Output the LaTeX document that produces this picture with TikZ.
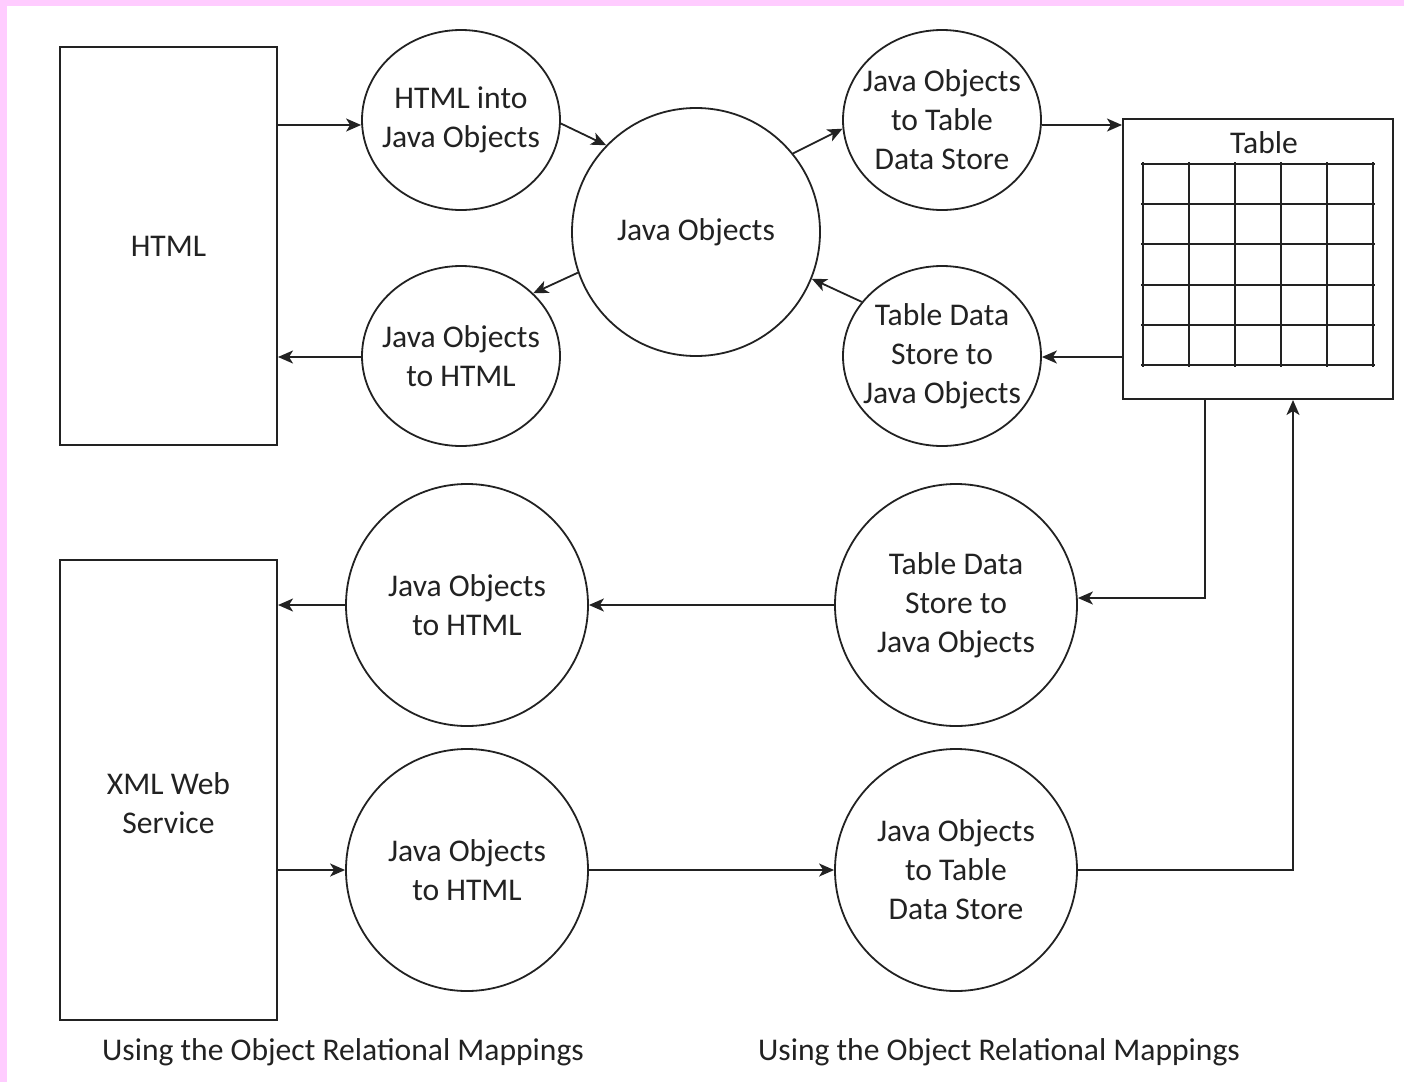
\documentclass[tikz,border=0pt]{standalone}
\usepackage{fontspec}
\setmainfont{Carlito}
\usetikzlibrary{arrows.meta,shapes.geometric}
\definecolor{framepink}{HTML}{FFCCFF}
\definecolor{inkgray}{HTML}{222222}
\tikzset{
    proc/.style={draw=inkgray, line width=0.9pt, ellipse, inner xsep=-6pt, inner ysep=0pt, align=center,
        minimum width=99pt, minimum height=90pt},
    bigproc/.style={proc, minimum width=121pt, minimum height=121pt},
    store/.style={draw=inkgray, line width=1pt, rectangle, inner sep=0pt, align=center},
    flow/.style={draw=inkgray, line width=0.9pt, -{Stealth[length=7.5pt,width=6.5pt,inset=2pt]}}
}
\begin{document}
\begin{tikzpicture}[x=0.5pt, y=-0.5pt, font=\fontsize{15.8}{19.5}\selectfont, text=inkgray]
    \useasboundingbox (0,0) rectangle (1404,1082);
    \fill[framepink] (0,0) rectangle (1404,6);
    \fill[framepink] (0,0) rectangle (7,1082);

    % upper half
    \node[store, minimum width=108.5pt, minimum height=199pt] (html) at (168.5,246) {HTML};
    \node[proc] (toobj) at (461,120) {HTML into\\Java Objects};
    \node[proc, minimum width=124pt, minimum height=124pt] (objs) at (696,232) {Java Objects};
    \node[proc] (tostore) at (942,120) {Java Objects\\to Table\\Data Store};
    \node[proc] (tohtml) at (461,356) {Java Objects\\to HTML};
    \node[proc] (fromstore) at (942,356) {Table Data\\Store to\\Java Objects};
    \node[store, minimum width=135pt, minimum height=140pt] (table) at (1258,259) {};
    \node (tabletitle) at (1264,143) {Table};
    \foreach \i in {0,...,5} {
        \draw[inkgray, line width=1pt] (1141,164+40.2*\i) -- (1375,164+40.2*\i);
        \draw[inkgray, line width=1pt] (1143+46*\i,162) -- (1143+46*\i,367);
    }

    % lower half
    \node[store, minimum width=108.5pt, minimum height=230pt] (xml) at (168.5,790) {};
    \node[align=center] (xmltext) at (168.5,803) {XML Web\\Service};
    \node[bigproc] (webhtml) at (467,605) {Java Objects\\to HTML};
    \node[bigproc] (webfrom) at (956,605) {Table Data\\Store to\\Java Objects};
    \node[bigproc] (webin) at (467,870) {Java Objects\\to HTML};
    \node[bigproc] (webto) at (956,870) {Java Objects\\to Table\\Data Store};

    \node (capleft) at (343,1052) {Using the Object Relational Mappings};
    \node (capright) at (999,1052) {Using the Object Relational Mappings};

    % connectors
    \draw[flow] (html.east |- 0,125) -- (toobj.west |- 0,125);
    \draw[flow] (toobj.-2) -- (objs.136);
    \draw[flow] (objs.39) -- (tostore.185);
    \draw[flow] (tostore.east |- 0,125) -- (table.west |- 0,125);
    \draw[flow] (table.west |- 0,357) -- (fromstore.east |- 0,357);
    \draw[flow] (fromstore.146) -- (objs.-22);
    \draw[flow] (objs.199) -- (tohtml.41);
    \draw[flow] (tohtml.west |- 0,357) -- (html.east |- 0,357);

    \draw[flow] ([xshift=-26.5pt]table.south) |- (webfrom.east |- 0,598);
    \draw[flow] (webfrom) -- (webhtml);
    \draw[flow] (webhtml) -- (webhtml -| xml.east);
    \draw[flow] (xml.east |- webin) -- (webin);
    \draw[flow] (webin) -- (webto);
    \draw[flow] (webto) -| ([xshift=17.5pt]table.south);
\end{tikzpicture}
\end{document}
